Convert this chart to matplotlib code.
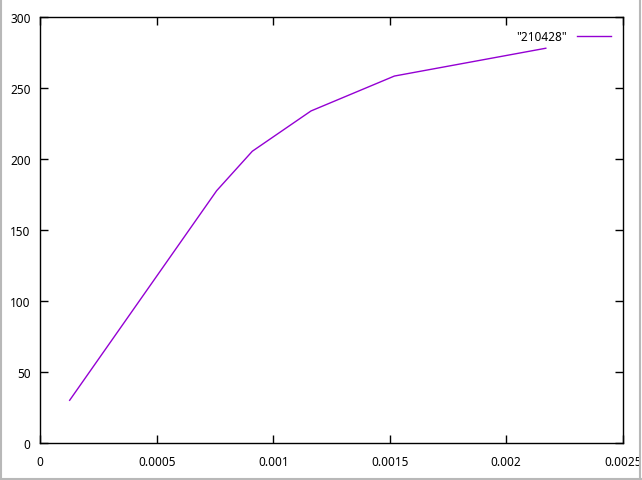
import matplotlib
matplotlib.use("Agg")
import matplotlib.pyplot as plt
from matplotlib.lines import Line2D

# data
xs = [0.000126, 0.000757, 0.00091, 0.001162, 0.00152, 0.00217]
ys = [30.1, 177.8, 205.6, 234.0, 258.6, 278.2]
label = '"210428"'
xticks = [0, 0.0005, 0.001, 0.0015, 0.002, 0.0025]
xticklabels = ["0", "0.0005", "0.001", "0.0015", "0.002", "0.0025"]
yticks = [0, 50, 100, 150, 200, 250, 300]

plt.rcParams['font.family'] = ['Noto Sans', 'DejaVu Sans']
fig = plt.figure(figsize=(6.42, 4.81), dpi=100)
ax = fig.add_axes([40.3 / 642, 1 - 444 / 481, (622.7 - 40.3) / 642, (444 - 18.3) / 481])

ax.plot(xs, ys, color="#9400d3", lw=1.0, label=label)
ax.set_xlim(0, 0.0025)
ax.set_ylim(0, 300)
ax.set_xticks(xticks)
ax.set_xticklabels(xticklabels)
ax.set_yticks(yticks)
ax.tick_params(direction="in", length=6, width=1, top=True, right=True,
               labelsize=8.5, pad=9)
ax.tick_params(axis="y", pad=7)
for s in ax.spines.values():
    s.set_linewidth(1)

leg = ax.legend(loc="upper right", frameon=False, fontsize=8.5,
                markerfirst=False, handlelength=2.9, borderaxespad=0.4,
                bbox_to_anchor=(0.996, 0.992))

# grey window border
fig.add_artist(Line2D([0.5 / 642, 0.5 / 642], [0, 1], color="#b8b8b8", lw=1.5))
fig.add_artist(Line2D([639.5 / 642, 639.5 / 642], [0, 1], color="#b8b8b8", lw=1.5))
fig.add_artist(Line2D([0, 1], [1 - 479.5 / 481, 1 - 479.5 / 481], color="#b8b8b8", lw=1.5))

fig.savefig("out.png", dpi=100)
